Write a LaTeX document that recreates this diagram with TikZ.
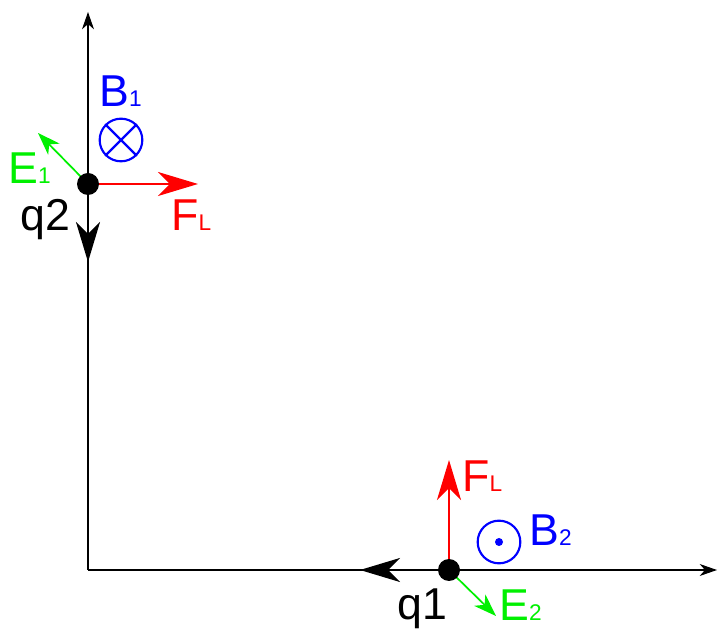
\documentclass[tikz,border=0pt]{standalone}
\usepackage{fontspec}
\setmainfont{Liberation Sans}
\usepackage{tikz}
\usetikzlibrary{arrows.meta}
\usetikzlibrary{positioning}
\usepackage{xcolor}
\definecolor{fieldblue}{HTML}{0000FF}
\definecolor{forcered}{HTML}{FF0000}
\definecolor{efieldgreen}{HTML}{00F000}
\newcommand{\vlab}[2]{#1{\fontsize{17}{17}\selectfont #2}}

\begin{document}
\begin{tikzpicture}[
  x=0.75pt, y=-0.75pt,
  axis/.style={line width=0.8pt, draw=black,
    -{Stealth[length=13pt, width=9pt, inset=4pt]}},
  charge/.style={circle, fill=black, inner sep=0pt, minimum size=16.5pt},
  velocity/.style={line width=2.2pt, draw=black,
    -{Stealth[length=30pt, width=18pt, inset=9pt]}},
  force/.style={line width=2pt, draw=forcered,
    -{Stealth[length=30pt, width=18pt, inset=9pt]}},
  efield/.style={line width=1.3pt, draw=efieldgreen,
    -{Stealth[length=17pt, width=12pt, inset=5pt]}},
  bfield/.style={circle, draw=fieldblue, line width=1.6pt,
    inner sep=0pt, minimum size=32pt},
  label/.style={font=\fontsize{33.5}{33.5}\selectfont, inner sep=0pt, anchor=base west},
]
\useasboundingbox (0,0) rectangle (718,630);

% === Axes ===
\coordinate (origin) at (88,570);
\coordinate (ytip) at (88,12);
\coordinate (xtip) at (717,570);
\draw[axis] (origin) -- (ytip);
\draw[axis] (origin) -- (xtip);

% === Charge q2 on the y axis ===
\coordinate (p2) at (88,184);
\coordinate (v2tip) at (88,262);
\coordinate (f2tip) at (198,184);
\coordinate (e1tip) at (38,133);
\draw[velocity] (p2) -- (v2tip);
\draw[force] (p2) -- (f2tip);
\draw[efield] (p2) -- (e1tip);
\node[charge] (q2) at (p2) {};
\node[bfield] (b1) at (121,140) {};
\draw[fieldblue, line width=1.6pt] (b1.north east) -- (b1.south west);
\draw[fieldblue, line width=1.6pt] (b1.north west) -- (b1.south east);
\node[label, text=fieldblue] (b1lab) at (99,107) {\vlab{B}{1}};
\node[label, text=efieldgreen] (e1lab) at (8,184) {\vlab{E}{1}};
\node[label, text=forcered] (f2lab) at (171,231) {\vlab{F}{L}};
\node[label] (q2lab) at (20,231) {q2};

% === Charge q1 on the x axis ===
\coordinate (p1) at (449,570);
\coordinate (v1tip) at (360,570);
\coordinate (f1tip) at (449,460);
\coordinate (e2tip) at (496,616);
\draw[velocity] (p1) -- (v1tip);
\draw[force] (p1) -- (f1tip);
\draw[efield] (p1) -- (e2tip);
\node[charge] (q1) at (p1) {};
\node[bfield] (b2) at (499,542) {};
\fill[fieldblue] (b2.center) circle (3pt);
\node[label, text=forcered] (f1lab) at (462,492) {\vlab{F}{L}};
\node[label, text=fieldblue] (b2lab) at (529,546) {\vlab{B}{2}};
\node[label, text=efieldgreen] (e2lab) at (499,621) {\vlab{E}{2}};
\node[label] (q1lab) at (397,620) {q1};
\end{tikzpicture}
\end{document}
